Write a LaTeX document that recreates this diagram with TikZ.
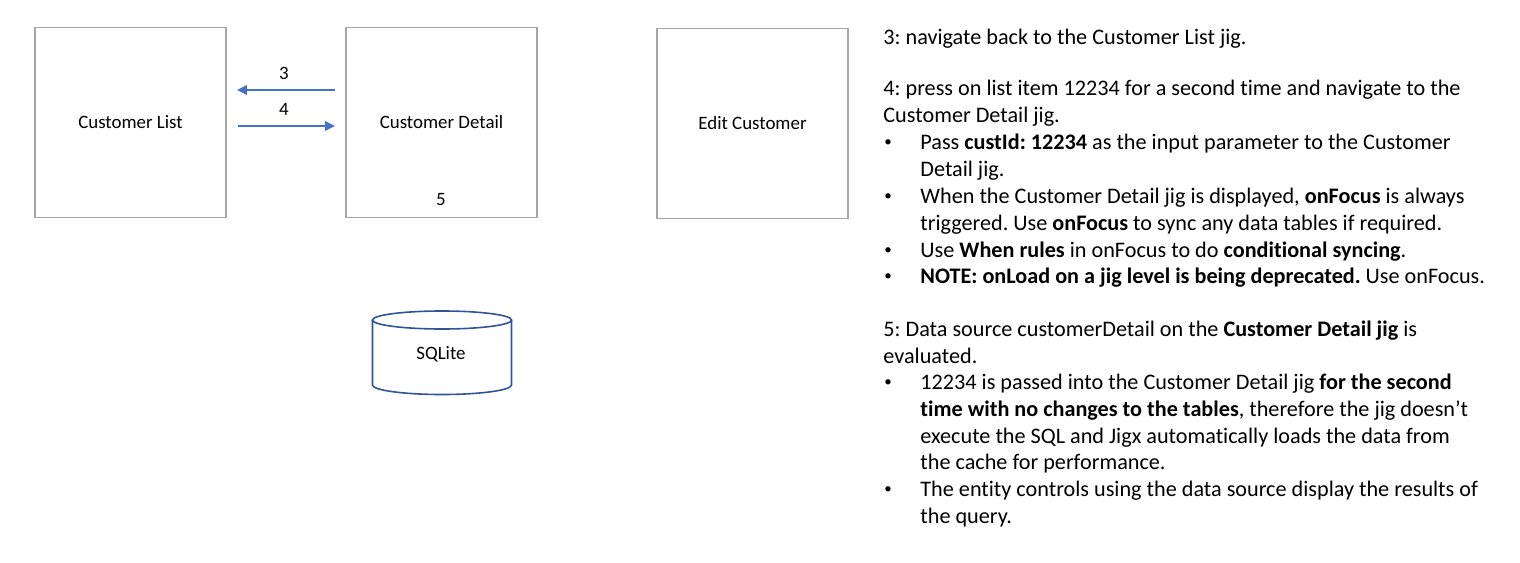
\documentclass[tikz,border=0pt]{standalone}
\usepackage{fontspec}
\setmainfont{Carlito}[Ligatures=NoCommon]
\usetikzlibrary{arrows.meta,calc}
\definecolor{boxgray}{HTML}{A6A6A6}
\definecolor{arrblue}{HTML}{4472C4}
\definecolor{dbblue}{HTML}{2F5597}
\frenchspacing
\newcommand{\mybul}{\raisebox{1.3pt}{\fontsize{7.5}{8}\selectfont •}}
\begin{document}
\begin{tikzpicture}[x=0.5pt,y=-0.5pt,
  screen/.style={draw=boxgray,line width=0.9pt,minimum width=95.5pt,minimum height=95pt,inner sep=0pt,font=\fontsize{9.45}{11}\selectfont},
  lbl/.style={inner sep=0pt,font=\fontsize{9.45}{11}\selectfont},
  arr/.style={draw=arrblue,line width=1.2pt,-{Triangle[length=5pt,width=4.6pt]}},
  dbline/.style={draw=dbblue,line width=0.8pt},
  txt/.style={anchor=base west,inner sep=0pt,font=\fontsize{11.1}{13.4}\selectfont},
  bul/.style={anchor=base west,inner sep=0pt,font=\fontsize{11.1}{13.4}\selectfont}]
\useasboundingbox (0,0) rectangle (1520,562);
% screens
\node[screen] (cl) at (130.5,122.5) {\raisebox{-1pt}{Customer List}};
\node[screen] (cd) at (441.5,122.5) {\raisebox{-1pt}{Customer Detail}};
\node[screen] (ec) at (752.5,123.5) {\raisebox{-1pt}{Edit Customer}};
\node[lbl] (five) at (441,199) {5};
% arrows
\draw[arr] ($(cd.west)+(-10,-32.5)$) -- ($(cl.east)+(10,-32.5)$);
\draw[arr] ($(cl.east)+(11,3.5)$) -- ($(cd.west)+(-10,3.5)$);
\node[lbl] (n3) at (284,73) {3};
\node[lbl] (n4) at (284,109) {4};
% database
\draw[dbline] (372.5,320) -- (372.5,385) arc[start angle=180,end angle=360,x radius=34.75pt,y radius=4.75pt] -- (511.5,320);
\draw[dbline] (442,320) ellipse [x radius=34.75pt,y radius=4.5pt];
\node[lbl] (db) at (441,354) {SQLite};
% text
\node[txt] (t1) at (883,44) {3: navigate back to the Customer List jig.};
\node[txt] (t2) at (883,95) {4: press on list item 12234 for a second time and navigate to the};
\node[txt] (t3) at (883,122) {Customer Detail jig.};
\node[bul] (b1) at (884,149) {\mybul};
\node[txt] (t4) at (920,149) {Pass \textbf{custId: 12234} as the input parameter to the Customer};
\node[txt] (t5) at (920,176) {Detail jig.};
\node[bul] (b2) at (884,203) {\mybul};
\node[txt] (t6) at (920,203) {When the Customer Detail jig is displayed, \textbf{onFocus} is always};
\node[txt] (t7) at (920,230) {triggered. Use \textbf{onFocus} to sync any data tables if required.};
\node[bul] (b3) at (884,257) {\mybul};
\node[txt] (t8) at (920,257) {Use \textbf{When rules} in onFocus to do \textbf{conditional syncing}.};
\node[bul] (b4) at (884,283) {\mybul};
\node[txt] (t9) at (920,283) {\textbf{NOTE: onLoad on a jig level is being deprecated.} Use onFocus.};
\node[txt] (t10) at (883,336) {5: Data source customerDetail on the \textbf{Customer Detail jig} is};
\node[txt] (t11) at (883,363) {evaluated.};
\node[bul] (b5) at (884,389) {\mybul};
\node[txt] (t12) at (920,389) {12234 is passed into the Customer Detail jig \textbf{for the second}};
\node[txt] (t13) at (920,416) {\textbf{time with no changes to the tables}, therefore the jig doesn’t};
\node[txt] (t14) at (920,443) {execute the SQL and Jigx automatically loads the data from};
\node[txt] (t15) at (920,469) {the cache for performance.};
\node[bul] (b6) at (884,496) {\mybul};
\node[txt] (t16) at (920,496) {The entity controls using the data source display the results of};
\node[txt] (t17) at (920,523) {the query.};
\end{tikzpicture}
\end{document}
